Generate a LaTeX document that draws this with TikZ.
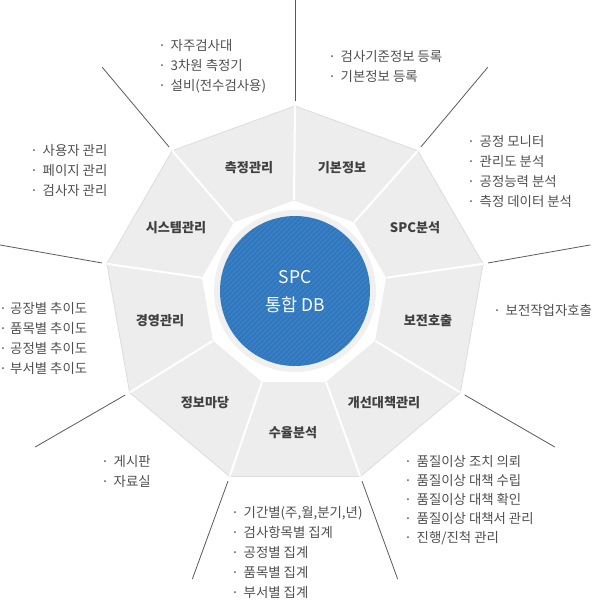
\documentclass[tikz,border=0pt]{standalone}
\usepackage{fontspec}
\setmainfont{Noto Sans CJK KR}
\usetikzlibrary{calc}
\definecolor{segfill}{HTML}{EDEDED}
\definecolor{segedge}{HTML}{DCDCDC}
\definecolor{raycol}{HTML}{5A5A5A}
\definecolor{labcol}{HTML}{404040}
\definecolor{txtcol}{HTML}{4F4F4F}
\definecolor{dbblue}{HTML}{2F77BE}
\definecolor{ringcol}{HTML}{F0F0F0}
\newcommand{\lbul}{\makebox[8pt]{·}\hspace{4.5pt}}
\newcommand{\lbulb}{\makebox[6pt]{·}\hspace{4pt}}
\begin{document}
\begin{tikzpicture}[x=1pt,y=-1pt,
 seglabel/.style={font=\fontsize{13.1}{15}\selectfont\bfseries, text=labcol, inner sep=0},
 lst/.style={anchor=west, inner sep=0, align=left, text=txtcol, font=\fontsize{13.4}{20}\selectfont},
 ray/.style={draw=raycol, line width=0.8pt},
 divider/.style={draw=white, line width=2pt},
]
\useasboundingbox (0,0) rectangle (593,600);
\foreach \k in {0,...,8}{
  \pgfmathsetmacro{\a}{90-40*\k}
  \coordinate (O\k) at ({295+191*cos(\a)},{297-191*sin(\a)});
  \coordinate (I\k) at ({294+94*cos(\a)},{294-94*sin(\a)});
  \coordinate (R\k) at ({295+196*cos(\a)},{297-196*sin(\a)});
  \coordinate (S\k) at ({295+300*cos(\a)},{297-300*sin(\a)});
}
% segments
\foreach \k [evaluate=\k as \n using {int(mod(\k+1,9))}] in {0,...,8}{
  \fill[segfill] (O\k) -- (O\n) -- (I\n) -- (I\k) -- cycle;
}
\draw[segedge, line width=0.8pt] (O0) -- (O1) -- (O2) -- (O3) -- (O4) -- (O5) -- (O6) -- (O7) -- (O8) -- cycle;
\draw[segedge!60!white, line width=0.5pt] (I0) -- (I1) -- (I2) -- (I3) -- (I4) -- (I5) -- (I6) -- (I7) -- (I8) -- cycle;
\foreach \k in {0,...,8}{
  \draw[divider] (O\k) -- (I\k);
  \draw[ray] (R\k) -- (S\k);
}
% center
\fill[ringcol] (295,291) circle (81pt);
\node[circle, fill=dbblue, minimum size=150pt, inner sep=0] (db) at (295,291) {};
\begin{scope}
\clip (295,291) circle (75pt);
\foreach \s in {-160,-155,...,160}{
  \draw[white, opacity=0.13, line width=0.5pt] ({295+\s-90},{291+90}) -- ({295+\s+90},{291-90});
}
\end{scope}
\node[text=white, font=\fontsize{17.5}{28}\selectfont, align=center, inner sep=0] (dbtext) at (295,292) {SPC\\통합 DB};
% segment labels
\node[seglabel] (m0) at (342,168) {기본정보};
\node[seglabel] (m1) at (415,228) {SPC분석};
\node[seglabel] (m2) at (428,321) {보전호출};
\node[seglabel] (m3) at (384,403) {개선대책관리};
\node[seglabel] (m4) at (293,433) {수율분석};
\node[seglabel] (m5) at (205,403) {정보마당};
\node[seglabel] (m6) at (160,321) {경영관리};
\node[seglabel] (m7) at (176,228) {시스템관리};
\node[seglabel] (m8) at (249,168) {측정관리};
% lists
\node[lst] (t8) at (158,66.5) {\lbul 자주검사대\\\lbul 3차원 측정기\\\lbul 설비(전수검사용)};
\node[lst] (t0) at (328,66) {\lbul 검사기준정보 등록\\\lbul 기본정보 등록};
\node[lst, font=\fontsize{13.4}{19.7}\selectfont] (t1) at (467,171.5) {\lbul 공정 모니터\\\lbul 관리도 분석\\\lbul 공정능력 분석\\\lbul 측정 데이터 분석};
\node[lst] (t7) at (30,170) {\lbul 사용자 관리\\\lbul 페이지 관리\\\lbul 검사자 관리};
\node[lst, font=\fontsize{13.4}{19.7}\selectfont] (t6) at (0,338.5) {\lbulb 공장별 추이도\\\lbulb 품목별 추이도\\\lbulb 공정별 추이도\\\lbulb 부서별 추이도};
\node[lst] (t2) at (493,310) {\lbul 보전작업자호출};
\node[lst] (t5) at (101,471) {\lbul 게시판\\\lbul 자료실};
\node[lst] (t4) at (231,552) {\lbul 기간별(주,월,분기,년)\\\lbul 검사항목별 집계\\\lbul 공정별 집계\\\lbul 품목별 집계\\\lbul 부서별 집계};
\node[lst, font=\fontsize{13.4}{19}\selectfont] (t3) at (404,500) {\lbul 품질이상 조치 의뢰\\\lbul 품질이상 대책 수립\\\lbul 품질이상 대책 확인\\\lbul 품질이상 대책서 관리\\\lbul 진행/진척 관리};
\end{tikzpicture}
\end{document}
